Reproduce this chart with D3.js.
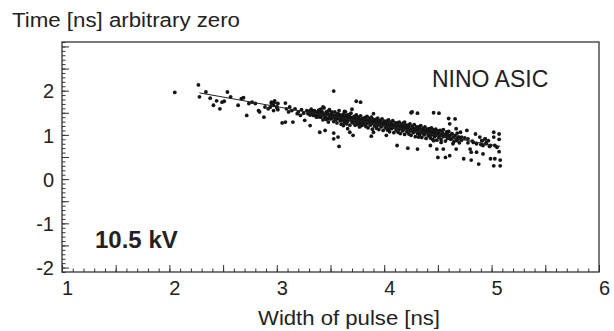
<!DOCTYPE html>
<html>
<head>
<meta charset="utf-8">
<script src="https://cdn.jsdelivr.net/npm/d3@7"></script>
<style>
  body { margin: 0; background: #fff; }
  text { font-family: "Liberation Sans", Arial, sans-serif; fill: #222; }
</style>
</head>
<body>
<svg id="chart" width="614" height="331"></svg>
<script>
// axis ranges and labels
const xDomain = [1, 6]
const yDomain = [-2.1, 3.1]
const xTickLabels = [1, 2, 3, 4, 5, 6]
const yTickLabels = [-2, -1, 0, 1, 2]

// fitted straight line, [width, time]
const fitLine = [[2.28, 1.95], [5.08, 0.74]]

// sparse points, left end of the band
const pointsLeft = [
  [2.05, 1.96], [2.27, 2.13], [2.28, 1.86], [2.34, 1.97], [2.38, 1.83], [2.41, 1.67],
  [2.44, 1.77], [2.47, 1.59], [2.49, 1.74], [2.51, 1.76], [2.54, 1.97], [2.57, 1.86],
  [2.64, 1.67], [2.67, 1.82], [2.69, 1.84], [2.72, 1.44], [2.74, 1.71], [2.77, 1.74],
  [2.80, 1.71], [2.83, 1.55], [2.84, 1.52], [2.88, 1.40], [2.89, 1.63], [2.92, 1.59],
  [2.94, 1.63], [2.95, 1.71], [2.97, 1.55], [2.98, 1.74], [3.00, 1.63], [3.01, 1.57]
]

// medium density, 3.0 to 3.4
const pointsMid = [
  [2.95, 1.74], [2.97, 1.67], [2.98, 1.77], [3.00, 1.62], [3.01, 1.71], [3.05, 1.27],
  [3.08, 1.72], [3.09, 1.59], [3.11, 1.52], [3.12, 1.63], [3.14, 1.55], [3.15, 1.29],
  [3.17, 1.59], [3.19, 1.48], [3.20, 1.52], [3.22, 1.44], [3.23, 1.57], [3.25, 1.49],
  [3.26, 1.33], [3.28, 1.55], [3.29, 1.48], [3.31, 1.21], [3.33, 1.54], [3.34, 1.44],
  [3.36, 1.52], [3.37, 1.40], [3.39, 1.48], [3.40, 1.06], [3.42, 1.52], [3.43, 1.63],
  [3.45, 1.40], [3.46, 1.48], [3.48, 1.37], [3.50, 1.44], [3.51, 1.52], [3.53, 1.99],
  [3.53, 1.04], [3.53, 0.91], [3.54, 1.44], [3.56, 1.37], [3.57, 1.48], [3.59, 1.40],
  [3.30, 1.53], [3.31, 1.45], [3.32, 1.58], [3.33, 1.49], [3.35, 1.55], [3.36, 1.44],
  [3.37, 1.51], [3.38, 1.47], [3.39, 1.56], [3.39, 1.41], [3.08, 1.29], [3.45, 1.10]
]

// dense band, 3.4 to 4.7
const pointsDense = [
  [3.40, 1.50], [3.41, 1.40], [3.41, 1.58], [3.42, 1.45], [3.42, 1.52], [3.43, 1.34],
  [3.44, 1.47], [3.44, 1.61], [3.45, 1.40], [3.46, 1.52], [3.46, 1.35], [3.47, 1.48],
  [3.48, 1.29], [3.48, 1.54], [3.49, 1.42], [3.49, 1.57], [3.50, 1.36], [3.50, 1.46],
  [3.51, 1.49], [3.52, 1.38], [3.52, 1.44], [3.53, 1.30], [3.54, 1.52], [3.54, 1.41],
  [3.55, 1.35], [3.56, 1.47], [3.56, 1.27], [3.57, 1.43], [3.58, 1.55], [3.58, 1.37],
  [3.59, 1.32], [3.59, 1.45], [3.60, 1.40], [3.60, 1.24],
  [3.61, 1.43], [3.61, 1.33], [3.62, 1.47], [3.62, 1.37], [3.63, 1.28], [3.63, 1.40],
  [3.64, 1.52], [3.64, 1.35], [3.65, 1.44], [3.65, 1.25], [3.66, 1.38], [3.66, 1.31],
  [3.67, 1.46], [3.67, 1.36], [3.68, 1.41], [3.68, 1.22], [3.69, 1.34], [3.69, 1.49],
  [3.70, 1.29], [3.70, 1.39],
  [3.71, 1.36], [3.71, 1.27], [3.72, 1.42], [3.72, 1.32], [3.73, 1.22], [3.73, 1.38],
  [3.74, 1.30], [3.74, 1.45], [3.75, 1.34], [3.75, 1.24], [3.76, 1.40], [3.76, 1.29],
  [3.77, 1.18], [3.77, 1.35], [3.78, 1.43], [3.78, 1.26], [3.79, 1.32], [3.79, 1.21],
  [3.80, 1.37], [3.80, 1.28],
  [3.81, 1.33], [3.81, 1.23], [3.82, 1.39], [3.82, 1.29], [3.83, 1.19], [3.83, 1.35],
  [3.84, 1.26], [3.84, 1.42], [3.85, 1.31], [3.85, 1.16], [3.86, 1.28], [3.86, 1.37],
  [3.87, 1.22], [3.87, 1.33], [3.88, 1.40], [3.88, 1.25], [3.89, 1.30], [3.89, 1.13],
  [3.90, 1.27], [3.90, 1.35],
  [3.91, 1.29], [3.91, 1.20], [3.92, 1.35], [3.92, 1.25], [3.93, 1.15], [3.93, 1.31],
  [3.94, 1.22], [3.94, 1.38], [3.95, 1.27], [3.95, 1.12], [3.96, 1.24], [3.96, 1.33],
  [3.97, 1.18], [3.97, 1.29], [3.98, 1.36], [3.98, 1.21], [3.99, 1.26], [3.99, 1.10],
  [4.00, 1.23], [4.00, 1.31],
  [4.01, 1.25], [4.01, 1.16], [4.02, 1.31], [4.02, 1.21], [4.03, 1.11], [4.03, 1.27],
  [4.04, 1.18], [4.04, 1.34], [4.05, 1.22], [4.05, 1.07], [4.06, 1.19], [4.06, 1.29],
  [4.07, 1.14], [4.07, 1.24], [4.08, 1.32], [4.08, 1.17], [4.09, 1.21], [4.09, 1.05],
  [4.10, 1.18], [4.10, 1.27],
  [4.11, 1.20], [4.11, 1.11], [4.12, 1.27], [4.12, 1.16], [4.13, 1.06], [4.13, 1.22],
  [4.14, 1.13], [4.14, 1.29], [4.15, 1.18], [4.15, 1.03], [4.16, 1.15], [4.16, 1.24],
  [4.17, 1.09], [4.17, 1.20], [4.18, 1.27], [4.18, 1.12], [4.19, 1.17], [4.19, 1.01],
  [4.20, 1.14], [4.20, 1.22],
  [4.21, 1.16], [4.21, 1.07], [4.22, 1.22], [4.22, 1.12], [4.23, 1.02], [4.23, 1.18],
  [4.24, 1.09], [4.24, 1.25], [4.25, 1.13], [4.25, 0.99], [4.26, 1.10], [4.26, 1.20],
  [4.27, 1.05], [4.27, 1.15], [4.28, 1.23], [4.28, 1.08], [4.29, 1.12], [4.29, 0.96],
  [4.30, 1.09], [4.30, 1.18],
  [4.31, 1.12], [4.31, 1.03], [4.32, 1.18], [4.32, 1.07], [4.33, 0.98], [4.33, 1.14],
  [4.34, 1.04], [4.34, 1.21], [4.35, 1.09], [4.35, 0.94], [4.36, 1.06], [4.36, 1.15],
  [4.37, 1.00], [4.37, 1.11], [4.38, 1.18], [4.38, 1.03], [4.39, 1.08], [4.39, 0.92],
  [4.40, 1.05], [4.40, 1.13],
  [4.41, 1.07], [4.41, 0.98], [4.42, 1.14], [4.42, 1.03], [4.43, 0.93], [4.43, 1.09],
  [4.44, 1.00], [4.44, 1.16], [4.45, 1.05], [4.45, 0.90], [4.46, 1.01], [4.46, 1.11],
  [4.47, 0.96], [4.47, 1.06], [4.48, 1.13], [4.48, 0.99], [4.49, 1.04], [4.49, 0.88],
  [4.50, 1.00], [4.50, 1.09],
  [4.51, 1.03], [4.51, 0.94], [4.52, 1.10], [4.53, 0.99], [4.53, 0.89], [4.54, 1.05],
  [4.55, 0.96], [4.55, 1.12], [4.56, 1.01], [4.57, 0.86], [4.57, 0.97], [4.58, 1.07],
  [4.59, 0.92], [4.59, 1.02], [4.60, 0.95], [4.60, 1.08],
  [4.61, 0.98], [4.62, 0.90], [4.63, 1.03], [4.64, 0.94], [4.65, 0.85], [4.66, 0.99],
  [4.67, 0.91], [4.68, 1.04], [4.68, 0.87], [4.69, 0.95], [4.70, 0.82], [4.70, 0.92]
]

// stragglers above / below the band
const pointsOutliers = [
  [3.74, 1.76], [3.78, 1.74], [3.63, 1.53], [3.70, 1.58], [3.90, 1.48], [3.68, 1.06],
  [3.71, 0.99], [3.88, 0.97], [3.90, 1.06], [4.12, 0.76], [4.22, 0.70], [4.32, 0.95],
  [4.02, 0.99], [3.66, 1.14], [3.62, 1.21], [4.19, 1.29], [4.05, 1.14], [4.25, 1.50],
  [4.31, 1.49], [4.51, 1.49], [4.66, 1.36], [4.26, 1.52], [4.46, 1.50], [4.60, 1.37],
  [4.61, 1.25], [4.31, 0.68], [3.57, 0.95], [3.58, 0.74]
]

// sparse points, right end of the band
const pointsRight = [
  [4.67, 1.14], [4.71, 1.06], [4.72, 0.95], [4.74, 0.46], [4.77, 1.10], [4.78, 0.91],
  [4.80, 0.68], [4.81, 0.61], [4.83, 0.83], [4.85, 1.02], [4.86, 0.61], [4.88, 0.34],
  [4.89, 0.95], [4.91, 0.87], [4.92, 0.76], [4.94, 0.91], [4.97, 0.87], [4.64, 0.80],
  [4.55, 0.68], [4.57, 0.49], [4.50, 0.49], [4.49, 0.68], [4.43, 0.76], [4.46, 0.87],
  [4.53, 0.83], [4.67, 0.68], [4.63, 1.02], [4.69, 0.95], [4.61, 0.53], [4.81, 0.43],
  [4.92, 0.57], [4.72, 0.88], [4.75, 0.93], [4.78, 0.82], [4.82, 0.86], [4.86, 0.80],
  [4.90, 0.78], [4.95, 0.83], [4.98, 0.74],
  [5.02, 1.06], [5.02, 0.95], [4.94, 0.91], [4.99, 0.76], [5.03, 0.76], [5.05, 0.72],
  [4.99, 0.46], [5.03, 0.46], [5.02, 0.30], [4.91, 0.87], [4.95, 0.80],
  [5.07, 1.02], [5.07, 0.90], [5.07, 0.62], [5.08, 0.43], [5.08, 0.30]
]

const frame = {left: 62, right: 599, top: 42, bottom: 272}

const svg = d3.select('#chart')
svg.append('rect').attr('width', 614).attr('height', 331).attr('fill', '#fff')

const x = d3.scaleLinear().domain(xDomain).range([frame.left, frame.right])
const y = d3.scaleLinear().domain(yDomain).range([frame.bottom, frame.top])

/**
 * ticks drawn inside the frame, minor ones every 0.1, longer ones every 0.5
 */
function drawAxes() {
  const minorX = d3.range(10, 61).map(d => d / 10)
  const halfX = d3.range(2, 13).map(d => d / 2)
  const minorY = d3.range(-21, 32).map(d => d / 10)
  const halfY = d3.range(-4, 7).map(d => d / 2)
  const plainNum = d => String(d) // hyphen minus, as in the original

  const gx = svg.append('g').attr('transform', `translate(0,${frame.bottom})`)
  gx.append('g').call(d3.axisBottom(x).tickValues(minorX).tickSize(-3.5).tickFormat(''))
  gx.append('g').call(d3.axisBottom(x).tickValues(halfX).tickSize(-7).tickFormat(''))
  gx.append('g').attr('class', 'xlabels')
    .call(d3.axisBottom(x).tickValues(xTickLabels).tickSize(0).tickPadding(9).tickFormat(plainNum))

  const gy = svg.append('g').attr('transform', `translate(${frame.left},0)`)
  gy.append('g').call(d3.axisLeft(y).tickValues(minorY).tickSize(-3.5).tickFormat(''))
  gy.append('g').call(d3.axisLeft(y).tickValues(halfY).tickSize(-7).tickFormat(''))
  gy.append('g').attr('class', 'ylabels')
    .call(d3.axisLeft(y).tickValues(yTickLabels).tickSize(0).tickPadding(8).tickFormat(plainNum))

  svg.selectAll('.domain').remove()
  svg.selectAll('.tick line').attr('stroke', '#333').attr('stroke-width', 1)
  svg.selectAll('.xlabels text, .ylabels text')
    .attr('font-size', 20)
    .attr('font-family', '"Liberation Sans", Arial, sans-serif')
    .attr('fill', '#222')
  svg.selectAll('.xlabels text').attr('dx', 5)
  svg.selectAll('.ylabels text').attr('dy', '0.36em')

  svg.append('rect')
    .attr('x', frame.left)
    .attr('y', frame.top)
    .attr('width', frame.right - frame.left)
    .attr('height', frame.bottom - frame.top)
    .attr('fill', 'none')
    .attr('stroke', '#333')
    .attr('stroke-width', 1.3)
}

function drawPoints() {
  const all = [].concat(pointsLeft, pointsMid, pointsDense, pointsOutliers, pointsRight)
  svg.append('g')
    .selectAll('circle')
    .data(all)
    .enter()
    .append('circle')
    .attr('cx', d => x(d[0]))
    .attr('cy', d => y(d[1]))
    .attr('r', 1.9)
    .attr('fill', '#151515')

  svg.append('path')
    .datum(fitLine)
    .attr('d', d3.line().x(d => x(d[0])).y(d => y(d[1])))
    .attr('fill', 'none')
    .attr('stroke', '#222')
    .attr('stroke-width', 1)
}

function drawTexts() {
  svg.append('text')
    .attr('x', 12).attr('y', 27)
    .attr('font-size', 20)
    .attr('textLength', 228).attr('lengthAdjust', 'spacingAndGlyphs')
    .text('Time [ns] arbitrary zero')

  svg.append('text')
    .attr('x', 258).attr('y', 325)
    .attr('font-size', 20)
    .attr('textLength', 182).attr('lengthAdjust', 'spacingAndGlyphs')
    .text('Width of pulse [ns]')

  svg.append('text')
    .attr('x', 432).attr('y', 87)
    .attr('font-size', 23)
    .text('NINO ASIC')

  svg.append('text')
    .attr('x', 95).attr('y', 248)
    .attr('font-size', 24)
    .attr('font-weight', 'bold')
    .text('10.5 kV')
}

drawAxes()
drawPoints()
drawTexts()
</script>
</body>
</html>
